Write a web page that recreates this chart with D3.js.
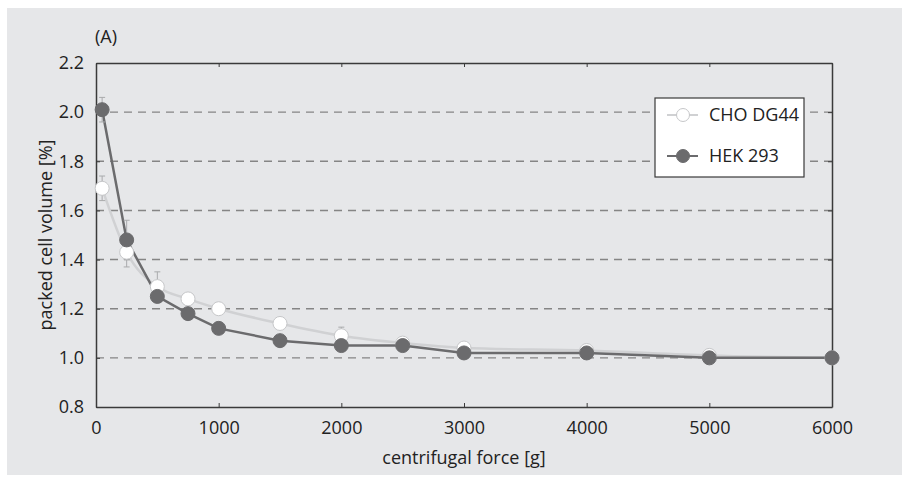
<!DOCTYPE html>
<html>
<head>
<meta charset="utf-8">
<script src="https://cdn.jsdelivr.net/npm/d3@7"></script>
<style>
  body { margin: 0; background: #ffffff; }
  svg text { font-family: "Open Sans", sans-serif; fill: #222222; }
</style>
</head>
<body>
<svg id="chart" width="902" height="481"></svg>
<script>
// centrifugal force [g]
const forces = [50, 250, 500, 750, 1000, 1500, 2000, 2500, 3000, 4000, 5000, 6000];
// packed cell volume [%]
const choValues = [1.69, 1.43, 1.29, 1.24, 1.20, 1.14, 1.09, 1.06, 1.04, 1.03, 1.01, 1.00];
const choErrors = [0.05, 0.06, 0.06, 0.01, 0.01, 0.01, 0.035, 0.01, 0.01, 0.01, 0.01, 0];
const hekValues = [2.01, 1.48, 1.25, 1.18, 1.12, 1.07, 1.05, 1.05, 1.02, 1.02, 1.00, 1.00];
const hekErrors = [0.05, 0.08, 0.02, 0.01, 0.02, 0.01, 0.01, 0.01, 0.01, 0.01, 0.01, 0];
const xTicks = [0, 1000, 2000, 3000, 4000, 5000, 6000];
const yTicks = [0.8, 1.0, 1.2, 1.4, 1.6, 1.8, 2.0, 2.2];
const gridValues = [1.0, 1.2, 1.4, 1.6, 1.8, 2.0];

const series = [
  { name: "CHO DG44", values: choValues, errors: choErrors, line: "#d0d1d3", fill: "#ffffff", stroke: "#c6c7c9", curve: d3.curveMonotoneX },
  { name: "HEK 293", values: hekValues, errors: hekErrors, line: "#6b6b6d", fill: "#6b6b6d", stroke: "#6b6b6d", curve: d3.curveLinear },
];

const svg = d3.select("#chart");
const margin = { left: 96, right: 70, top: 63, bottom: 74 };
const width = 902, height = 481;
const fontSize = 18;

// grey panel
svg.append("rect")
  .attr("x", 7).attr("y", 8)
  .attr("width", width - 7).attr("height", 467)
  .attr("fill", "#e6e7e9");

const x = d3.scaleLinear().domain([0, 6000]).range([margin.left, width - margin.right]);
const y = d3.scaleLinear().domain([0.8, 2.2]).range([height - margin.bottom, margin.top]);

// dashed gridlines
svg.append("g")
  .selectAll("line")
  .data(gridValues)
  .join("line")
  .attr("x1", x(0)).attr("x2", x(6000))
  .attr("y1", (d) => y(d)).attr("y2", (d) => y(d))
  .attr("stroke", "#858585")
  .attr("stroke-width", 1.4)
  .attr("stroke-dasharray", "8,6");

// axes with inward ticks
const axisStyle = (g) => {
  g.select(".domain").attr("stroke", "#3a3a3a").attr("stroke-width", 1.5);
  g.selectAll(".tick line").attr("stroke", "#3a3a3a");
  g.selectAll(".tick text")
    .attr("font-family", "Open Sans, sans-serif")
    .attr("font-size", fontSize)
    .attr("fill", "#222222");
};

svg.append("g")
  .attr("transform", `translate(0,${y(0.8)})`)
  .call(d3.axisBottom(x).tickValues(xTicks).tickSizeInner(-4).tickSizeOuter(0).tickPadding(14).tickFormat(d3.format("d")))
  .call(axisStyle);

svg.append("g")
  .attr("transform", `translate(0,${y(2.2)})`)
  .call(d3.axisTop(x).tickValues(xTicks).tickSizeInner(-4).tickSizeOuter(0).tickFormat(""))
  .call(axisStyle);

svg.append("g")
  .attr("transform", `translate(${x(0)},0)`)
  .call(d3.axisLeft(y).tickValues(yTicks).tickSizeInner(-4).tickSizeOuter(0).tickPadding(12).tickFormat(d3.format(".1f")))
  .call(axisStyle);

svg.append("g")
  .attr("transform", `translate(${x(6000)},0)`)
  .call(d3.axisRight(y).tickValues(yTicks).tickSizeInner(-4).tickSizeOuter(0).tickFormat(""))
  .call(axisStyle);

// lines
series.forEach((s) => {
  const line = d3.line()
    .x((d, i) => x(forces[i]))
    .y((d) => y(d))
    .curve(s.curve);
  svg.append("path")
    .datum(s.values)
    .attr("fill", "none")
    .attr("stroke", s.line)
    .attr("stroke-width", 2.5)
    .attr("d", line);
});

// error bars
series.forEach((s) => {
  const g = svg.append("g").attr("stroke", "#a9aaac").attr("stroke-width", 1);
  s.values.forEach((v, i) => {
    if (!s.errors[i]) return;
    const cx = x(forces[i]);
    const top = y(v + s.errors[i]);
    const bottom = y(v - s.errors[i]);
    g.append("line").attr("x1", cx).attr("x2", cx).attr("y1", top).attr("y2", bottom);
    g.append("line").attr("x1", cx - 3).attr("x2", cx + 3).attr("y1", top).attr("y2", top);
    g.append("line").attr("x1", cx - 3).attr("x2", cx + 3).attr("y1", bottom).attr("y2", bottom);
  });
});

// markers
series.forEach((s) => {
  svg.append("g")
    .selectAll("circle")
    .data(s.values)
    .join("circle")
    .attr("cx", (d, i) => x(forces[i]))
    .attr("cy", (d) => y(d))
    .attr("r", 7)
    .attr("fill", s.fill)
    .attr("stroke", s.stroke)
    .attr("stroke-width", 1);
});

// legend
const legend = svg.append("g").attr("transform", "translate(655,98)");
legend.append("rect")
  .attr("width", 149).attr("height", 79)
  .attr("fill", "#ffffff")
  .attr("stroke", "#3a3a3a")
  .attr("stroke-width", 1.2);
series.forEach((s, i) => {
  const rowY = 17 + i * 41;
  legend.append("line")
    .attr("x1", 12).attr("x2", 43)
    .attr("y1", rowY).attr("y2", rowY)
    .attr("stroke", s.line).attr("stroke-width", 2);
  legend.append("circle")
    .attr("cx", 28).attr("cy", rowY).attr("r", 6.5)
    .attr("fill", s.fill).attr("stroke", s.stroke);
  legend.append("text")
    .attr("x", 54).attr("y", rowY + 6)
    .attr("font-size", fontSize)
    .text(s.name);
});

// labels
svg.append("text")
  .attr("x", (x(0) + x(6000)) / 2)
  .attr("y", 464)
  .attr("text-anchor", "middle")
  .attr("font-size", fontSize)
  .text("centrifugal force [g]");

svg.append("text")
  .attr("transform", `translate(52,${(y(0.8) + y(2.2)) / 2})rotate(-90)`)
  .attr("text-anchor", "middle")
  .attr("font-size", fontSize)
  .text("packed cell volume [%]");

svg.append("text")
  .attr("x", 95).attr("y", 43)
  .attr("font-size", fontSize)
  .text("(A)");
</script>
</body>
</html>
